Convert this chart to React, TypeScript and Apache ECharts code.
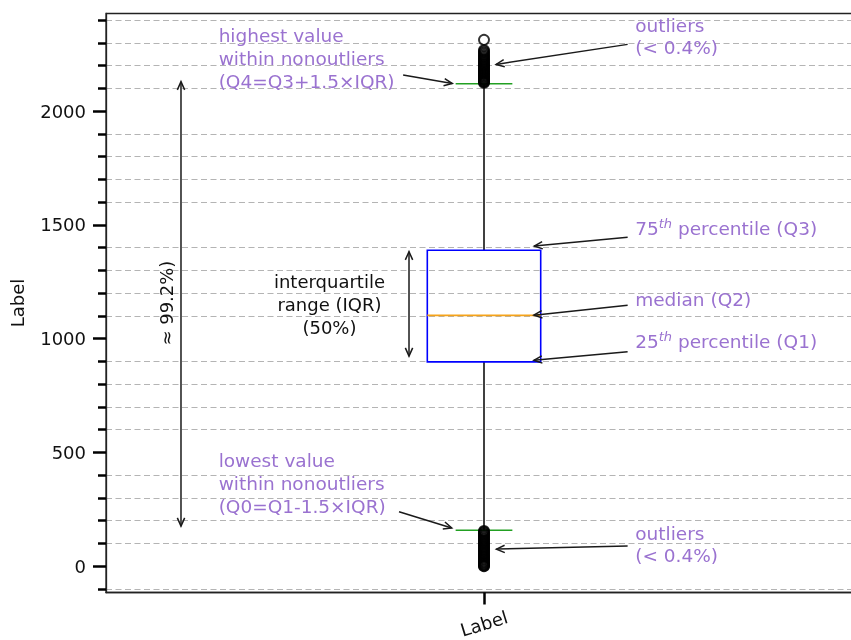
import React, { useEffect, useRef } from 'react';
import * as echarts from 'echarts';

const categories = ['Label'];
// [Q0 (lower whisker), Q1, Q2 (median), Q3, Q4 (upper whisker)]
const boxStats = [158, 898, 1102, 1388, 2120];
const outliersHigh = [
  2124, 2128, 2131, 2135, 2139, 2143, 2147, 2151, 2155, 2159, 2163, 2167, 2171, 2175, 2180, 2184,
  2188, 2193, 2197, 2202, 2206, 2211, 2216, 2221, 2226, 2231, 2237, 2243, 2249, 2256, 2262, 2268, 2313,
];
const outliersLow = [
  0, 2, 5, 9, 13, 17, 21, 26, 30, 35, 40, 44, 49, 54, 58, 63, 68, 72, 77, 82, 86, 91, 96, 101, 106,
  111, 116, 121, 126, 131, 136, 141, 146, 151, 155,
];
const yMajorTicks = [0, 500, 1000, 1500, 2000];
const yMinorTicks = [
  -100, 100, 200, 300, 400, 600, 700, 800, 900, 1100, 1200, 1300, 1400, 1600, 1700, 1800, 1900,
  2100, 2200, 2300, 2400,
];

const FONT = 'DejaVu Sans';
const PURPLE = '#9a72d0';
const INK = '#111111';

export default function App() {
  const ref = useRef<HTMLDivElement>(null);
  useEffect(() => {
    const chart = echarts.init(ref.current!, null, { renderer: 'svg' });
    const all = [...outliersHigh, ...outliersLow, ...boxStats];
    const dmin = Math.min(...all);
    const dmax = Math.max(...all);
    const pad = (dmax - dmin) * 0.05;
    const yMin = dmin - pad;
    const yMax = dmax + pad;
    const boxX = 1;
    const boxHalf = 0.075;
    const capHalf = 0.0375;

    const renderItem = (params: any, api: any) => {
      const x = api.value(0);
      const q0 = api.value(1), q1 = api.value(2), q2 = api.value(3), q3 = api.value(4), q4 = api.value(5);
      const p = (xx: number, yy: number) => api.coord([xx, yy]);
      const seg = (a: number[], b: number[], stroke: string, w = 1.5) => ({
        type: 'line',
        shape: { x1: a[0], y1: a[1], x2: b[0], y2: b[1] },
        style: { stroke, lineWidth: w },
      });
      const lt = p(x - boxHalf, q3);
      const rb = p(x + boxHalf, q1);
      return {
        type: 'group',
        children: [
          seg(p(x, q3), p(x, q4), '#000'),
          seg(p(x, q1), p(x, q0), '#000'),
          {
            type: 'rect',
            shape: { x: lt[0], y: lt[1], width: rb[0] - lt[0], height: rb[1] - lt[1] },
            style: { fill: 'transparent', stroke: '#0000ff', lineWidth: 1.6 },
          },
          seg(p(x - boxHalf, q2), p(x + boxHalf, q2), '#f5a31a', 1.8),
          seg(p(x - capHalf, q4), p(x + capHalf, q4), '#22a022'),
          seg(p(x - capHalf, q0), p(x + capHalf, q0), '#22a022'),
        ],
      };
    };

    const option: any = {
      animation: false,
      grid: {
        left: 106, top: 13.5, width: 756, height: 579,
        outerBoundsMode: 'none', containLabel: false,
        show: true, borderColor: '#222', borderWidth: 1.3, backgroundColor: 'transparent',
      },
      xAxis: {
        type: 'value', min: 0.5, max: 1.5,
        axisLine: { show: true, onZero: false, lineStyle: { color: '#222', width: 1.3 } },
        axisTick: { show: true, customValues: [boxX], length: 12, lineStyle: { color: '#000', width: 2.5 } },
        axisLabel: {
          customValues: [boxX], formatter: () => categories[0], rotate: 17, align: 'center',
          verticalAlign: 'middle', margin: 31, fontSize: 18, fontFamily: FONT, color: INK,
        },
        splitLine: { show: false },
      },
      yAxis: [
        {
          type: 'value', min: yMin, max: yMax,
          name: 'Label', nameLocation: 'middle', nameGap: 80, nameRotate: 90,
          nameTextStyle: { fontSize: 18, fontFamily: FONT, color: INK },
          axisLine: { show: true, onZero: false, lineStyle: { color: '#222', width: 1.3 } },
          axisTick: { show: true, customValues: yMajorTicks, length: 13, lineStyle: { color: '#000', width: 2.5 } },
          axisLabel: {
            customValues: yMajorTicks, formatter: (v: number) => String(v), margin: 20,
            fontSize: 18, fontFamily: FONT, color: INK,
          },
          splitLine: { show: false },
        },
        {
          type: 'value', min: yMin, max: yMax, position: 'left',
          axisLine: { show: false, onZero: false },
          axisTick: { show: true, customValues: yMinorTicks, length: 8, lineStyle: { color: '#000', width: 2.5 } },
          axisLabel: { show: false },
          splitLine: { show: true, lineStyle: { type: [6, 3.5], color: '#b4b4b4', width: 1.1 } },
        },
      ],
      series: [
        {
          type: 'custom', renderItem, data: [[boxX, ...boxStats]],
          encode: { x: 0, y: [1, 2, 3, 4, 5] }, z: 3,
        },
        {
          type: 'scatter', data: outliersHigh.map((v) => [boxX, v]), symbol: 'circle', symbolSize: 10,
          itemStyle: { color: 'rgba(0,0,0,0)', borderColor: '#000', borderWidth: 1.9 }, z: 4,
        },
        {
          type: 'scatter', data: outliersLow.map((v) => [boxX, v]), symbol: 'circle', symbolSize: 10,
          itemStyle: { color: 'rgba(0,0,0,0)', borderColor: '#000', borderWidth: 1.9 }, z: 4,
        },
      ],
    };
    chart.setOption(option);

    const P = (x: number, y: number) => chart.convertToPixel({ seriesIndex: 1 }, [x, y]) as number[];
    const stroke = '#1a1a1a';
    const head = (tip: number[], from: number[]) => {
      const dx = from[0] - tip[0], dy = from[1] - tip[1];
      const d = Math.hypot(dx, dy);
      const ux = dx / d, uy = dy / d;
      const len = 9, a = 0.42;
      const r = (t: number) => [
        tip[0] + len * (ux * Math.cos(t) - uy * Math.sin(t)),
        tip[1] + len * (ux * Math.sin(t) + uy * Math.cos(t)),
      ];
      return { type: 'polyline', shape: { points: [r(a), tip, r(-a)] }, style: { stroke, lineWidth: 1.5, fill: null }, z: 10 };
    };
    const arrow = (from: number[], to: number[], both = false) => {
      const a = P(from[0], from[1]);
      const b = P(to[0], to[1]);
      const els: any[] = [
        { type: 'line', shape: { x1: a[0], y1: a[1], x2: b[0], y2: b[1] }, style: { stroke, lineWidth: 1.5 }, z: 10 },
        head(b, a),
      ];
      if (both) els.push(head(a, b));
      return els;
    };
    const text = (x: number, y: number, s: string, opts: any = {}) => {
      const p = P(x, y);
      return {
        type: 'text', x: p[0], y: p[1], z: 10, rotation: opts.rotation || 0,
        style: {
          text: s, fill: opts.fill || PURPLE, fontSize: opts.fontSize || 18.5, fontFamily: FONT,
          align: opts.align || 'left', verticalAlign: 'middle', lineHeight: opts.lineHeight || 23,
          rich: {
            sup: { fontSize: 13, fontStyle: 'italic', fontFamily: FONT, fill: opts.fill || PURPLE, verticalAlign: 'top' },
          },
        },
      };
    };

    const graphic: any[] = [
      ...arrow([0.893, 2158], [0.958, 2121]),
      ...arrow([1.19, 2293], [1.016, 2205]),
      ...arrow([1.19, 1445], [1.0665, 1407]),
      ...arrow([1.19, 1147], [1.066, 1103]),
      ...arrow([1.19, 942], [1.066, 905]),
      ...arrow([0.8876, 239], [0.9573, 168]),
      ...arrow([1.19, 89], [1.0165, 75]),
      ...arrow([0.5992, 176], [0.5992, 2129], true),
      ...arrow([0.9008, 923], [0.9008, 1382], true),
      text(0.649, 2233, 'highest value\nwithin nonoutliers\n(Q4=Q3+1.5×IQR)'),
      text(1.2, 2329, 'outliers\n(< 0.4%)', { lineHeight: 22 }),
      text(1.2, 1483, '75{sup|th} percentile (Q3)'),
      text(1.2, 1171, 'median (Q2)'),
      text(1.2, 988, '25{sup|th} percentile (Q1)'),
      text(0.649, 365, 'lowest value\nwithin nonoutliers\n(Q0=Q1-1.5×IQR)'),
      text(1.2, 95, 'outliers\n(< 0.4%)', { lineHeight: 22 }),
      text(0.7956, 1149, 'interquartile\nrange (IQR)\n(50%)', { fill: INK, align: 'center', fontSize: 18 }),
      text(0.5794, 1156, '≈ 99.2%)', { fill: INK, align: 'center', fontSize: 18, rotation: Math.PI / 2 }),
    ];
    chart.setOption({ graphic });

    return () => chart.dispose();
  }, []);
  return (
    <div style={{ position: 'fixed', left: 0, top: 0, width: 851, height: 640, overflow: 'hidden' }}>
      <div ref={ref} style={{ width: 880, height: 640 }} />
    </div>
  );
}
